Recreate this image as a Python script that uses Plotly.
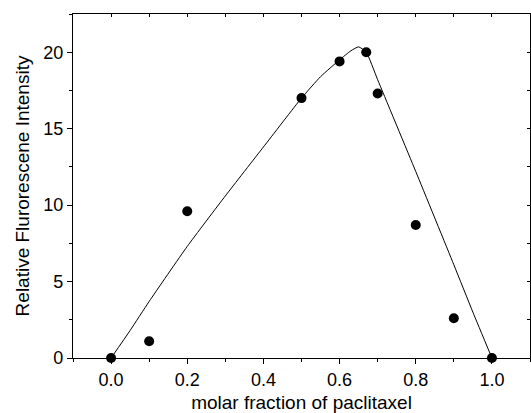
import plotly.graph_objects as go

# measured points
x_pts = [0.0, 0.1, 0.2, 0.5, 0.6, 0.67, 0.7, 0.8, 0.9, 1.0]
y_pts = [0.0, 1.1, 9.6, 17.0, 19.4, 20.0, 17.3, 8.7, 2.6, 0.0]

# fitted curve
x_fit = [0.0, 0.05, 0.1, 0.2, 0.3, 0.4, 0.5, 0.55, 0.6, 0.63, 0.65, 0.67, 0.7, 0.8, 0.9, 0.95, 1.0]
y_fit = [0.0, 1.8, 3.7, 7.3, 10.6, 13.8, 17.0, 18.4, 19.5, 20.1, 20.35, 20.0, 18.2, 12.2, 6.1, 3.0, 0.0]

x_range = [-0.1, 1.1]
y_range = [0, 22.5]
x_ticks = [0.0, 0.2, 0.4, 0.6, 0.8, 1.0]
x_ticklabels = ["0.0", "0.2", "0.4", "0.6", "0.8", "1.0"]
y_ticks = [0, 5, 10, 15, 20]
x_minor_all = [0.0, 0.1, 0.2, 0.3, 0.4, 0.5, 0.6, 0.7, 0.8, 0.9, 1.0]
y_minor_all = [0, 2.5, 5, 7.5, 10, 12.5, 15, 17.5, 20]

font = "Liberation Sans, Arial, sans-serif"

fig = go.Figure()
fig.add_trace(go.Scatter(x=x_fit, y=y_fit, mode="lines",
                         line=dict(color="black", width=1, shape="spline", smoothing=0.5),
                         showlegend=False, hoverinfo="skip"))
fig.add_trace(go.Scatter(x=x_pts, y=y_pts, mode="markers",
                         marker=dict(color="black", size=10),
                         showlegend=False, cliponaxis=False))
# invisible trace so the top / right frame axes are drawn
fig.add_trace(go.Scatter(x=[x_range[0]], y=[y_range[0]], xaxis="x2", yaxis="y2",
                         mode="markers", marker=dict(opacity=0), showlegend=False,
                         hoverinfo="skip"))

axis_common = dict(showgrid=False, zeroline=False, showline=True, linecolor="black",
                   linewidth=1.3, tickcolor="black", tickwidth=1.2,
                   tickfont=dict(family=font, size=18, color="black"))

fig.update_layout(
    width=531, height=413,
    margin=dict(l=73, r=1, t=14, b=55),
    paper_bgcolor="white", plot_bgcolor="white",
    font=dict(family=font, size=18, color="black"),
    xaxis=dict(range=x_range, tickvals=x_ticks, ticktext=x_ticklabels,
               ticks="outside", ticklen=5,
               minor=dict(dtick=0.1, tick0=0, ticks="outside", ticklen=3, tickcolor="black", tickwidth=1.2),
               title=dict(text="molar fraction of paclitaxel", standoff=6,
                          font=dict(family=font, size=19)),
               **axis_common),
    yaxis=dict(range=y_range, tickvals=y_ticks, ticks="outside", ticklen=5,
               minor=dict(dtick=2.5, tick0=0, ticks="outside", ticklen=3, tickcolor="black", tickwidth=1.2),
               title=dict(text="Relative Flurorescene Intensity", standoff=8,
                          font=dict(family=font, size=19)),
               **axis_common),
    xaxis2=dict(range=x_range, overlaying="x", side="top", anchor="y",
                tickvals=x_minor_all,
                ticks="inside", ticklen=3, showticklabels=False, showgrid=False,
                zeroline=False, showline=True, linecolor="black", linewidth=1.3,
                tickcolor="black", tickwidth=1.2),
    yaxis2=dict(range=y_range, overlaying="y", side="right", anchor="x",
                tickvals=y_minor_all,
                ticks="inside", ticklen=3, showticklabels=False, showgrid=False,
                zeroline=False, showline=True, linecolor="black", linewidth=1.3,
                tickcolor="black", tickwidth=1.2),
)

fig.write_html("out.html")
